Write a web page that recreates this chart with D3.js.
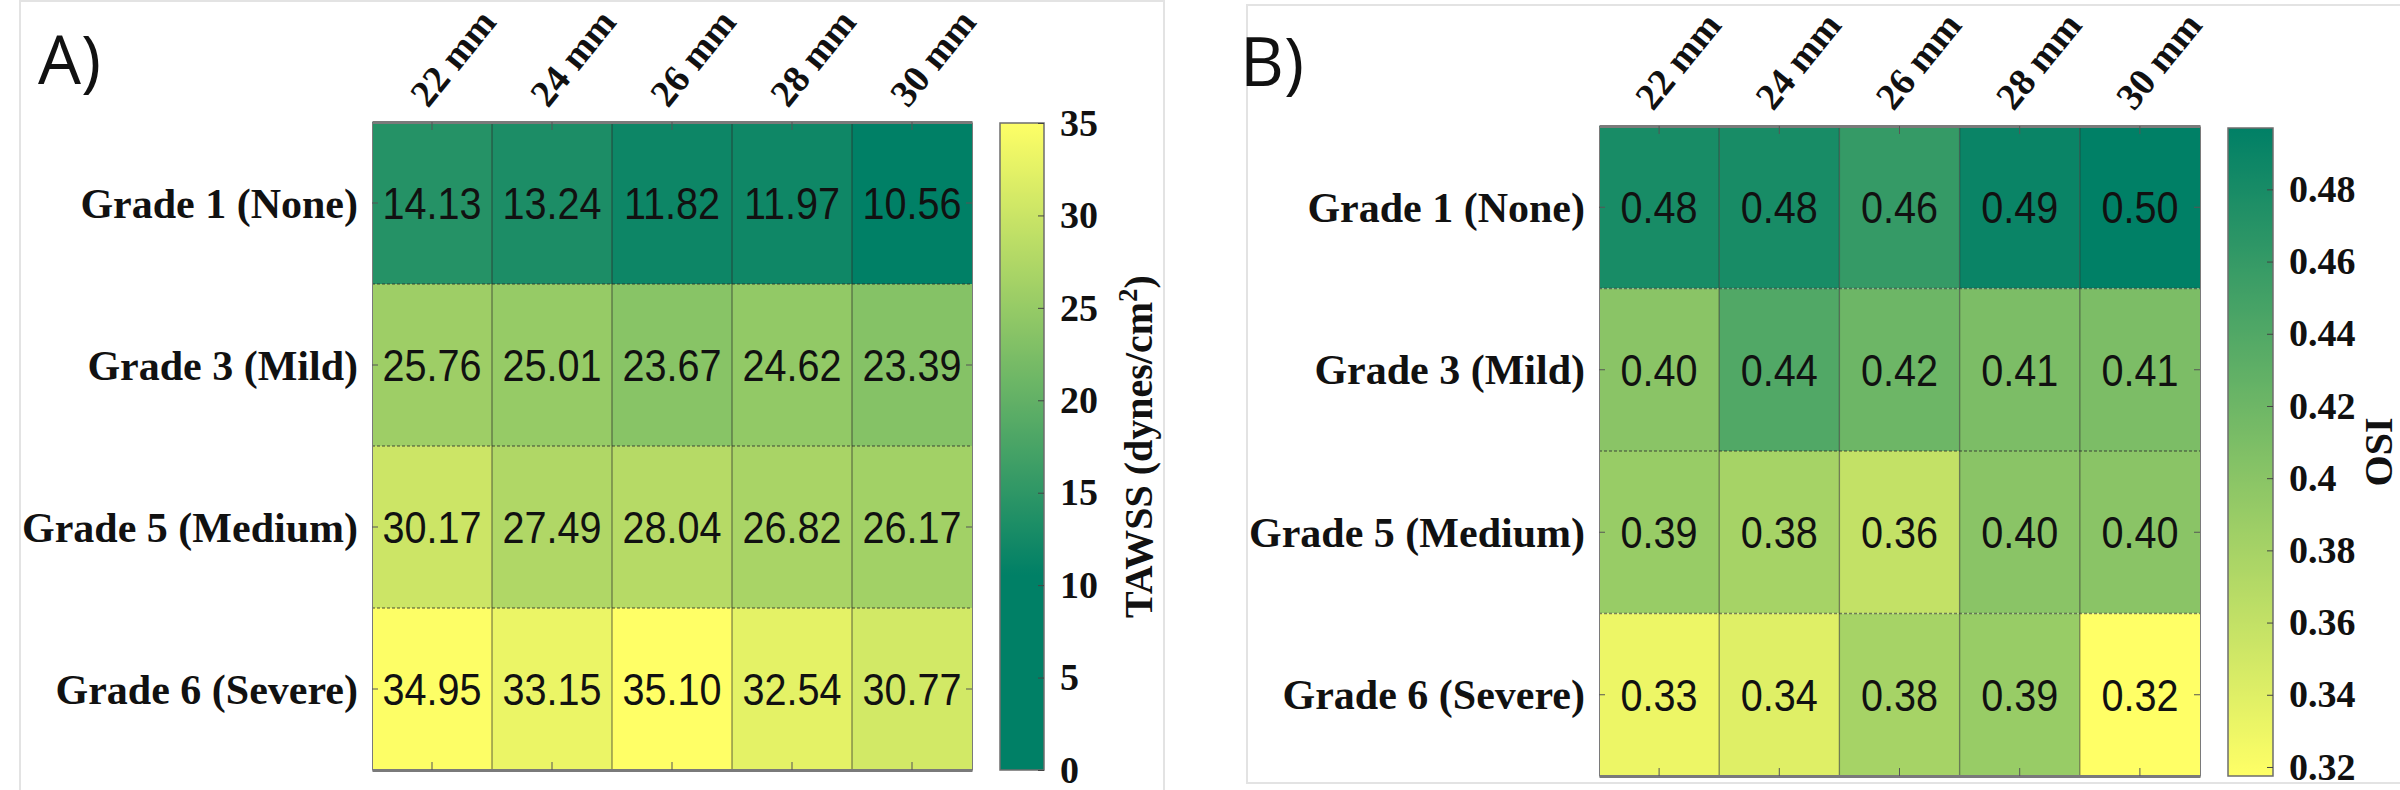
<!DOCTYPE html>
<html>
<head>
<meta charset="utf-8">
<script src="https://cdn.jsdelivr.net/npm/d3@7"></script>
<style>
  html, body { margin: 0; padding: 0; background: #ffffff; }
  svg { display: block; }
</style>
</head>
<body>
<svg id="chart" width="2400" height="790"></svg>
<script>
// data
const diameters = ["22 mm", "24 mm", "26 mm", "28 mm", "30 mm"];
const grades = ["Grade 1 (None)", "Grade 3 (Mild)", "Grade 5 (Medium)", "Grade 6 (Severe)"];

const tawssValues = [
  [14.13, 13.24, 11.82, 11.97, 10.56],
  [25.76, 25.01, 23.67, 24.62, 23.39],
  [30.17, 27.49, 28.04, 26.82, 26.17],
  [34.95, 33.15, 35.10, 32.54, 30.77]
];
const osiValues = [
  [0.48, 0.48, 0.46, 0.49, 0.497],
  [0.40, 0.44, 0.42, 0.41, 0.41],
  [0.39, 0.38, 0.36, 0.40, 0.40],
  [0.33, 0.34, 0.38, 0.39, 0.3175]
];

const tawssTicks = [0, 5, 10, 15, 20, 25, 30, 35];
const tawssTickLabels = ["0", "5", "10", "15", "20", "25", "30", "35"];
const osiTicks = [0.32, 0.34, 0.36, 0.38, 0.40, 0.42, 0.44, 0.46, 0.48];
const osiTickLabels = ["0.32", "0.34", "0.36", "0.38", "0.4", "0.42", "0.44", "0.46", "0.48"];

const SERIF = "'Liberation Serif', 'Times New Roman', serif";
const SANS = "'Liberation Sans', Arial, sans-serif";

// matlab "summer" colormap
function summer(t) {
  return d3.rgb(255 * t, 255 * (0.5 + 0.5 * t), 102).formatHex();
}

const svg = d3.select("#chart");
const defs = svg.append("defs");

function drawPanel(p) {
  const g = svg.append("g");

  // light frame round the panel
  g.append("rect")
    .attr("x", p.frame[0]).attr("y", p.frame[1])
    .attr("width", p.frame[2]).attr("height", p.frame[3])
    .attr("fill", "none").attr("stroke", "#e3e3e3").attr("stroke-width", 2);

  g.append("text")
    .attr("x", p.letterX).attr("y", p.letterY)
    .attr("font-family", "'Open Sans', sans-serif")
    .attr("font-size", 68)
    .attr("fill", "#111")
    .text(p.letter);

  const x = d3.scaleBand().domain(diameters).range([p.left, p.right]);
  const y = d3.scaleBand().domain(grades).range([p.top, p.bottom]);

  const flat = [];
  p.values.forEach((row, i) => row.forEach((v, j) => flat.push({grade: grades[i], dia: diameters[j], v: v})));
  const ext = d3.extent(flat, d => d.v);
  const color = d3.scaleSequential(summer)
    .domain(p.reverse ? [ext[1], ext[0]] : ext)
    .clamp(true);

  // cells
  g.append("g").selectAll("rect")
    .data(flat)
    .join("rect")
    .attr("x", d => x(d.dia))
    .attr("y", d => y(d.grade))
    .attr("width", x.bandwidth())
    .attr("height", y.bandwidth())
    .attr("fill", d => color(d.v));

  // grid lines between cells
  const grid = g.append("g").attr("stroke", "#2a2a2a").attr("stroke-opacity", 0.55).attr("stroke-width", 1.3);
  grid.selectAll("line.v")
    .data(diameters.slice(1))
    .join("line")
    .attr("class", "v")
    .attr("x1", d => x(d)).attr("x2", d => x(d))
    .attr("y1", p.top).attr("y2", p.bottom);
  grid.selectAll("line.h")
    .data(grades.slice(1))
    .join("line")
    .attr("class", "h")
    .attr("stroke-dasharray", "3,2")
    .attr("x1", p.left).attr("x2", p.right)
    .attr("y1", d => y(d)).attr("y2", d => y(d));

  // cell values
  g.append("g").selectAll("text")
    .data(flat)
    .join("text")
    .attr("transform", d => `translate(${x(d.dia) + x.bandwidth() / 2},${y(d.grade) + y.bandwidth() / 2}) scale(0.9,1)`)
    .attr("text-anchor", "middle")
    .attr("dy", "0.36em")
    .attr("font-family", SANS)
    .attr("font-size", 44)
    .attr("fill", "#111")
    .text(d => d.v.toFixed(2));

  // axes (ticks only, labels drawn separately)
  const axStyle = sel => {
    sel.selectAll("path.domain").attr("stroke", "#7a7a7a");
    sel.selectAll(".tick line").attr("stroke", "#555");
  };
  g.append("g").attr("transform", `translate(0,${p.top})`)
    .call(d3.axisTop(x).tickSizeInner(-8).tickSizeOuter(0).tickFormat(""))
    .call(axStyle)
    .select("path.domain").attr("stroke-width", 3);
  g.append("g").attr("transform", `translate(0,${p.bottom})`)
    .call(d3.axisBottom(x).tickSizeInner(-8).tickSizeOuter(0).tickFormat(""))
    .call(axStyle)
    .select("path.domain").attr("stroke-width", 3);
  g.append("g").attr("transform", `translate(${p.left},0)`)
    .call(d3.axisLeft(y).tickSizeInner(-6).tickSizeOuter(0).tickFormat(""))
    .call(axStyle);
  g.append("g").attr("transform", `translate(${p.right},0)`)
    .call(d3.axisRight(y).tickSizeInner(-6).tickSizeOuter(0).tickFormat(""))
    .call(axStyle);

  // column labels, rotated
  g.append("g").selectAll("text")
    .data(diameters)
    .join("text")
    .attr("transform", d => `translate(${x(d) + x.bandwidth() / 2 + p.colDx},${p.colY}) rotate(-51)`)
    .attr("font-family", SERIF)
    .attr("font-weight", "bold")
    .attr("font-size", 38)
    .attr("fill", "#111")
    .text(d => d);

  // row labels
  g.append("g").selectAll("text")
    .data(grades)
    .join("text")
    .attr("x", p.left - 14)
    .attr("y", d => y(d) + y.bandwidth() / 2)
    .attr("dy", "0.35em")
    .attr("text-anchor", "end")
    .attr("font-family", SERIF)
    .attr("font-weight", "bold")
    .attr("font-size", 42)
    .attr("fill", "#111")
    .text(d => d);

  // colorbar
  const cb = d3.scaleLinear().domain(p.cbDomain).range([p.cbBottom, p.cbTop]);
  const grad = defs.append("linearGradient")
    .attr("id", "grad" + p.letter[0])
    .attr("x1", 0).attr("x2", 0).attr("y1", 1).attr("y2", 0);
  grad.selectAll("stop")
    .data(d3.range(0, 101))
    .join("stop")
    .attr("offset", d => d + "%")
    .attr("stop-color", d => color(cb.invert(p.cbBottom + (p.cbTop - p.cbBottom) * d / 100)));
  g.append("rect")
    .attr("x", p.cbLeft).attr("y", p.cbTop)
    .attr("width", p.cbWidth).attr("height", p.cbBottom - p.cbTop)
    .attr("fill", `url(#grad${p.letter[0]})`)
    .attr("stroke", "#6d6d6d").attr("stroke-width", 1.5);

  const cbAxis = g.append("g")
    .attr("transform", `translate(${p.cbLeft + p.cbWidth},0)`)
    .call(d3.axisRight(cb).tickValues(p.ticks).tickSizeInner(-6).tickSizeOuter(0)
      .tickPadding(16).tickFormat((d, i) => p.tickLabels[i]));
  cbAxis.select("path.domain").remove();
  cbAxis.selectAll(".tick line").attr("stroke", "#444");
  cbAxis.selectAll(".tick text")
    .attr("font-family", SERIF)
    .attr("font-weight", "bold")
    .attr("font-size", 38)
    .attr("fill", "#111");

  const title = g.append("text")
    .attr("transform", `translate(${p.titleX},${(p.cbTop + p.cbBottom) / 2}) rotate(-90)`)
    .attr("text-anchor", "middle")
    .attr("font-family", SERIF)
    .attr("font-weight", "bold")
    .attr("font-size", 40)
    .attr("fill", "#111");
  p.title.forEach(part => {
    const t = title.append("tspan").text(part.text);
    if (part.sup) t.attr("baseline-shift", "super").attr("font-size", 27);
  });
}

drawPanel({
  letter: "A)", letterX: 38, letterY: 84,
  frame: [20, 1, 1144, 800],
  values: tawssValues, reverse: false,
  left: 372, right: 972, top: 122, bottom: 770,
  colDx: -4, colY: 109,
  cbLeft: 1000, cbWidth: 44, cbTop: 123, cbBottom: 770,
  cbDomain: [0, 35], ticks: tawssTicks, tickLabels: tawssTickLabels,
  titleX: 1152,
  title: [{text: "TAWSS (dynes/cm"}, {text: "2", sup: true}, {text: ")"}]
});

drawPanel({
  letter: "B)", letterX: 1240, letterY: 86,
  frame: [1247, 5, 1200, 778],
  values: osiValues, reverse: true,
  left: 1599, right: 2200, top: 126, bottom: 776,
  colDx: -6, colY: 112,
  cbLeft: 2228, cbWidth: 45, cbTop: 128, cbBottom: 776,
  cbDomain: [0.3175, 0.497], ticks: osiTicks, tickLabels: osiTickLabels,
  titleX: 2392,
  title: [{text: "OSI"}]
});
</script>
</body>
</html>
